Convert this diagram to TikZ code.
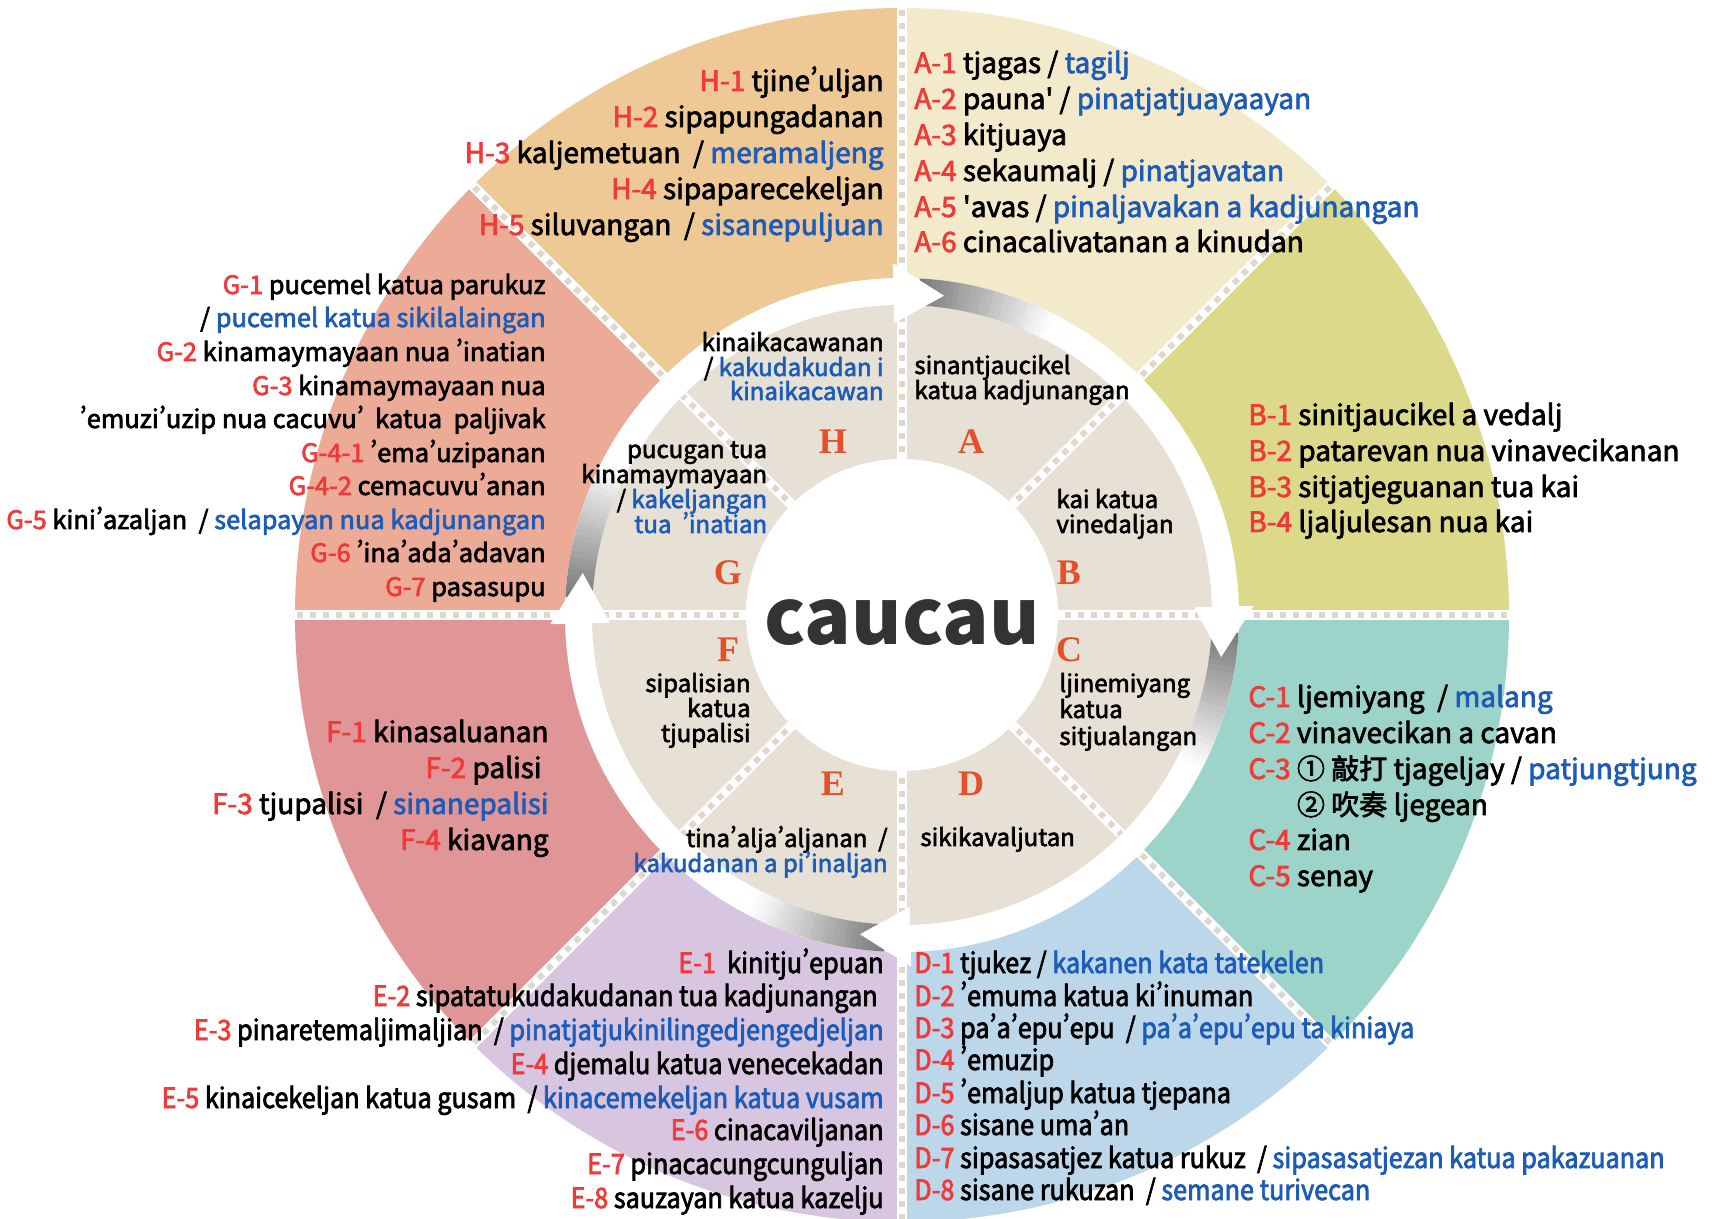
\documentclass[tikz,border=0pt]{standalone}
\usepackage{fontspec}
\newfontfamily\mf{Noto Sans CJK TC}[FakeBold=2.5]
\newfontfamily\cf{Noto Sans CJK TC}[FakeBold=2.5,FakeStretch=0.9]
\newfontfamily\plainf{Noto Sans CJK TC}
\newfontfamily\letf{Liberation Serif}
\definecolor{cA}{HTML}{F3EACB}
\definecolor{cB}{HTML}{DCD98A}
\definecolor{cC}{HTML}{9DD4C9}
\definecolor{cD}{HTML}{BCD6EA}
\definecolor{cE}{HTML}{D8C5E0}
\definecolor{cF}{HTML}{E09596}
\definecolor{cG}{HTML}{EBAB96}
\definecolor{cH}{HTML}{EEC995}
\definecolor{beige}{HTML}{E6E0D5}
\definecolor{dashgray}{HTML}{DDD8CE}
\definecolor{lred}{HTML}{F03A3A}
\definecolor{lblue}{HTML}{1C5BB8}
\definecolor{letor}{HTML}{E4502A}
\definecolor{cau}{HTML}{333333}
\newcommand\Rd[1]{\textcolor{lred}{#1}}
\newcommand\Bl[1]{\textcolor{lblue}{#1}}
\newcommand\ap{{\addfontfeature{RawFeature=+pwid}’}}
\newcommand\TR[5]{\node[#1,anchor=base east] (#2) at (#3,#4) {#5};}
\newcommand\TW[5]{\node[#1,anchor=base west] (#2) at (#3,#4) {#5};}
\newcommand\sect[3]{\fill[#1] (0,0) -- (#2:607) arc[start angle=#2, end angle=#3, radius=607] -- cycle;}
\newcommand\gradband[1]{%
  \foreach \i in {0,...,23}{%
    \pgfmathsetmacro\aa{#1-\i}%
    \pgfmathsetmacro\bb{#1-\i-1.1}%
    \pgfmathtruncatemacro\pp{52*(1-\i/24)}%
    \fill[black!\pp] (\aa:310) arc[start angle=\aa, end angle=\bb, radius=310] -- (\bb:337) arc[start angle=\bb, end angle=\aa, radius=337] -- cycle;
  }}
\begin{document}
\begin{tikzpicture}[x=0.5pt,y=0.5pt,
  lst/.style={inner sep=0pt, font=\mf\fontsize{14}{16}\selectfont},
  glst/.style={inner sep=0pt, font=\mf\fontsize{12.7}{15}\selectfont},
  clst/.style={inner sep=0pt, font=\cf\fontsize{14}{16}\selectfont},
  inr/.style={inner sep=0pt, font=\mf\fontsize{12}{13}\selectfont},
  letter/.style={inner sep=0pt, font=\letf\bfseries\fontsize{18}{18}\selectfont, text=letor},
  divw/.style={line width=5pt, white},
  divd/.style={line width=3pt, dashgray, dash pattern=on 3pt off 3.5pt}]
\useasboundingbox[fill=white] (-902,-604) rectangle (810,615);
% outer sectors
\sect{cA}{90}{45}
\sect{cB}{45}{0}
\sect{cC}{0}{-45}
\sect{cD}{-45}{-90}
\sect{cE}{-90}{-135}
\sect{cF}{-135}{-180}
\sect{cG}{180}{135}
\sect{cH}{135}{90}
\fill[white] (0,0) circle[radius=337];
\fill[beige] (0,0) circle[radius=310];
\foreach \a in {0,45,...,315}{
  \draw[divw] (\a:337) -- (\a:607);
  \draw[divd] (\a:339) -- (\a:607);
  \draw[divw] (\a:150) -- (\a:310);
  \draw[divd] (\a:150) -- (\a:310);
}
\fill[white] (0,0) circle[radius=156];
% arrows
\gradband{87}
\gradband{-3}
\gradband{-93}
\gradband{177}
\foreach \a in {90,0,-90,180}{
  \fill[white] (\a+1.5:292) -- (\a-7.5:322) -- (\a+1.5:352) -- cycle;
}
% centre
\node[inner sep=0pt, font=\plainf\bfseries\fontsize{38.6}{40}\selectfont, text=cau] (cc) at (0,-8) {caucau};
% letters
\node[letter] (lH) at (-69,173) {H};
\node[letter] (lA) at (69,173) {A};
\node[letter] (lB) at (167,42) {B};
\node[letter] (lC) at (167,-35) {C};
\node[letter] (lD) at (69,-169) {D};
\node[letter] (lE) at (-69,-169) {E};
\node[letter] (lF) at (-174,-35) {F};
\node[letter] (lG) at (-174,42) {G};
% inner texts
\TR{inr}{iH1}{-18}{264}{kinaikacawanan}
\TR{inr}{iH2}{-18}{239}{/ \Bl{kakudakudan i}}
\TR{inr}{iH3}{-18}{215}{\Bl{kinaikacawan}}
\TW{inr}{iA1}{12}{241}{sinantjaucikel}
\TW{inr}{iA2}{12}{216}{katua kadjunangan}
\TW{inr}{iB1}{154}{107}{kai katua}
\TW{inr}{iB2}{154}{82}{vinedaljan}
\TW{inr}{iC1}{157}{-77}{ljinemiyang}
\TW{inr}{iC2}{157}{-103}{katua}
\TW{inr}{iC3}{157}{-130}{sitjualangan}
\TW{inr}{iD1}{18}{-231}{sikikavaljutan}
\TR{inr}{iE1}{-14}{-232}{tina\ap alja\ap aljanan\ \ /}
\TR{inr}{iE2}{-14}{-257}{\Bl{kakudanan a pi\ap inaljan}}
\TR{inr}{iF1}{-151}{-77}{sipalisian}
\TR{inr}{iF2}{-151}{-102}{katua}
\TR{inr}{iF3}{-151}{-127}{tjupalisi}
\TR{inr}{iG1}{-134.5}{157}{pucugan tua}
\TR{inr}{iG2}{-134.5}{132}{kinamaymayaan}
\TR{inr}{iG3}{-134.5}{107}{/ \Bl{kakeljangan}}
\TR{inr}{iG4}{-134.5}{82}{\Bl{tua\ \ \ap inatian}}
% H list
\TR{lst}{h1}{-18}{524}{\Rd{H-1} tjine\ap uljan}
\TR{lst}{h2}{-18}{488}{\Rd{H-2} sipapungadanan}
\TR{lst}{h3}{-18}{452}{\Rd{H-3} kaljemetuan\ \ / \Bl{meramaljeng}}
\TR{lst}{h4}{-18}{416}{\Rd{H-4} sipaparecekeljan}
\TR{lst}{h5}{-18}{380}{\Rd{H-5} siluvangan\ \ / \Bl{sisanepuljuan}}
% A list
\TW{lst}{a1}{12}{542}{\Rd{A-1} tjagas / \Bl{tagilj}}
\TW{lst}{a2}{12}{506}{\Rd{A-2} pauna' / \Bl{pinatjatjuayaayan}}
\TW{lst}{a3}{12}{470}{\Rd{A-3} kitjuaya}
\TW{lst}{a4}{12}{434}{\Rd{A-4} sekaumalj / \Bl{pinatjavatan}}
\TW{lst}{a5}{12}{398}{\Rd{A-5} 'avas / \Bl{pinaljavakan a kadjunangan}}
\TW{lst}{a6}{12}{363}{\Rd{A-6} cinacalivatanan a kinudan}
% B list
\TW{lst}{b1}{346}{190}{\Rd{B-1} sinitjaucikel a vedalj}
\TW{lst}{b2}{346}{154}{\Rd{B-2} patarevan nua vinavecikanan}
\TW{lst}{b3}{346}{118}{\Rd{B-3} sitjatjeguanan tua kai}
\TW{lst}{b4}{346}{83}{\Rd{B-4} ljaljulesan nua kai}
% C list
\TW{lst}{c1}{346}{-92}{\Rd{C-1} ljemiyang\ \ / \Bl{malang}}
\TW{lst}{c2}{346}{-128}{\Rd{C-2} vinavecikan a cavan}
\TW{lst}{c3}{346}{-164}{\Rd{C-3} ① 敲打 tjageljay / \Bl{patjungtjung}}
\TW{lst}{c3b}{346}{-200}{\phantom{C-3} ② 吹奏 ljegean}
\TW{lst}{c4}{346}{-235}{\Rd{C-4} zian}
\TW{lst}{c5}{346}{-271}{\Rd{C-5} senay}
% D list
\TW{clst}{d1}{12}{-358}{\Rd{D-1} tjukez / \Bl{kakanen kata tatekelen}}
\TW{clst}{d2}{12}{-391}{\Rd{D-2} \ap emuma katua ki\ap inuman}
\TW{clst}{d3}{12}{-423}{\Rd{D-3} pa\ap a\ap epu\ap epu\ \ / \Bl{pa\ap a\ap epu\ap epu ta kiniaya}}
\TW{clst}{d4}{12}{-455}{\Rd{D-4} \ap emuzip}
\TW{clst}{d5}{12}{-488}{\Rd{D-5} \ap emaljup katua tjepana}
\TW{clst}{d6}{12}{-520}{\Rd{D-6} sisane uma\ap an}
\TW{clst}{d7}{12}{-553}{\Rd{D-7} sipasasatjez katua rukuz\ \ / \Bl{sipasasatjezan katua pakazuanan}}
\TW{clst}{d8}{12}{-585}{\Rd{D-8} sisane rukuzan\ \ / \Bl{semane turivecan}}
% E list
\TR{clst}{e1}{-18}{-358}{\Rd{E-1}\ \ kinitju\ap epuan}
\TR{clst}{e2}{-24}{-391}{\Rd{E-2} sipatatukudakudanan tua kadjunangan}
\TR{clst}{e3}{-18}{-425}{\Rd{E-3} pinaretemaljimaljian\ \ / \Bl{pinatjatjukinilingedjengedjeljan}}
\TR{clst}{e4}{-18}{-459}{\Rd{E-4} djemalu katua venecekadan}
\TR{clst}{e5}{-18}{-493}{\Rd{E-5} kinaicekeljan katua gusam\ \ / \Bl{kinacemekeljan katua vusam}}
\TR{clst}{e6}{-18}{-525}{\Rd{E-6} cinacaviljanan}
\TR{clst}{e7}{-18}{-559}{\Rd{E-7} pinacacungcunguljan}
\TR{clst}{e8}{-18}{-593}{\Rd{E-8} sauzayan katua kazelju}
% F list
\TR{lst}{f1}{-353}{-127}{\Rd{F-1} kinasaluanan}
\TR{lst}{f2}{-360}{-163}{\Rd{F-2} palisi}
\TR{lst}{f3}{-353}{-199}{\Rd{F-3} tjupalisi\ \ / \Bl{sinanepalisi}}
\TR{lst}{f4}{-353}{-235}{\Rd{F-4} kiavang}
% G list
\TR{glst}{g1}{-356}{321}{\Rd{G-1} pucemel katua parukuz}
\TR{glst}{g1b}{-356}{288}{/ \Bl{pucemel katua sikilalaingan}}
\TR{glst}{g2}{-356}{254}{\Rd{G-2} kinamaymayaan nua \ap inatian}
\TR{glst}{g3}{-356}{220}{\Rd{G-3} kinamaymayaan nua}
\TR{glst}{g3b}{-356}{187}{\ap emuzi\ap uzip nua cacuvu\ap\ \ katua\ \ paljivak}
\TR{glst}{g41}{-356}{153}{\Rd{G-4-1} \ap ema\ap uzipanan}
\TR{glst}{g42}{-356}{120}{\Rd{G-4-2} cemacuvu\ap anan}
\TR{glst}{g5}{-356}{86}{\Rd{G-5} kini\ap azaljan\ \ / \Bl{selapayan nua kadjunangan}}
\TR{glst}{g6}{-356}{53}{\Rd{G-6} \ap ina\ap ada\ap adavan}
\TR{glst}{g7}{-356}{19}{\Rd{G-7} pasasupu}
\end{tikzpicture}
\end{document}
